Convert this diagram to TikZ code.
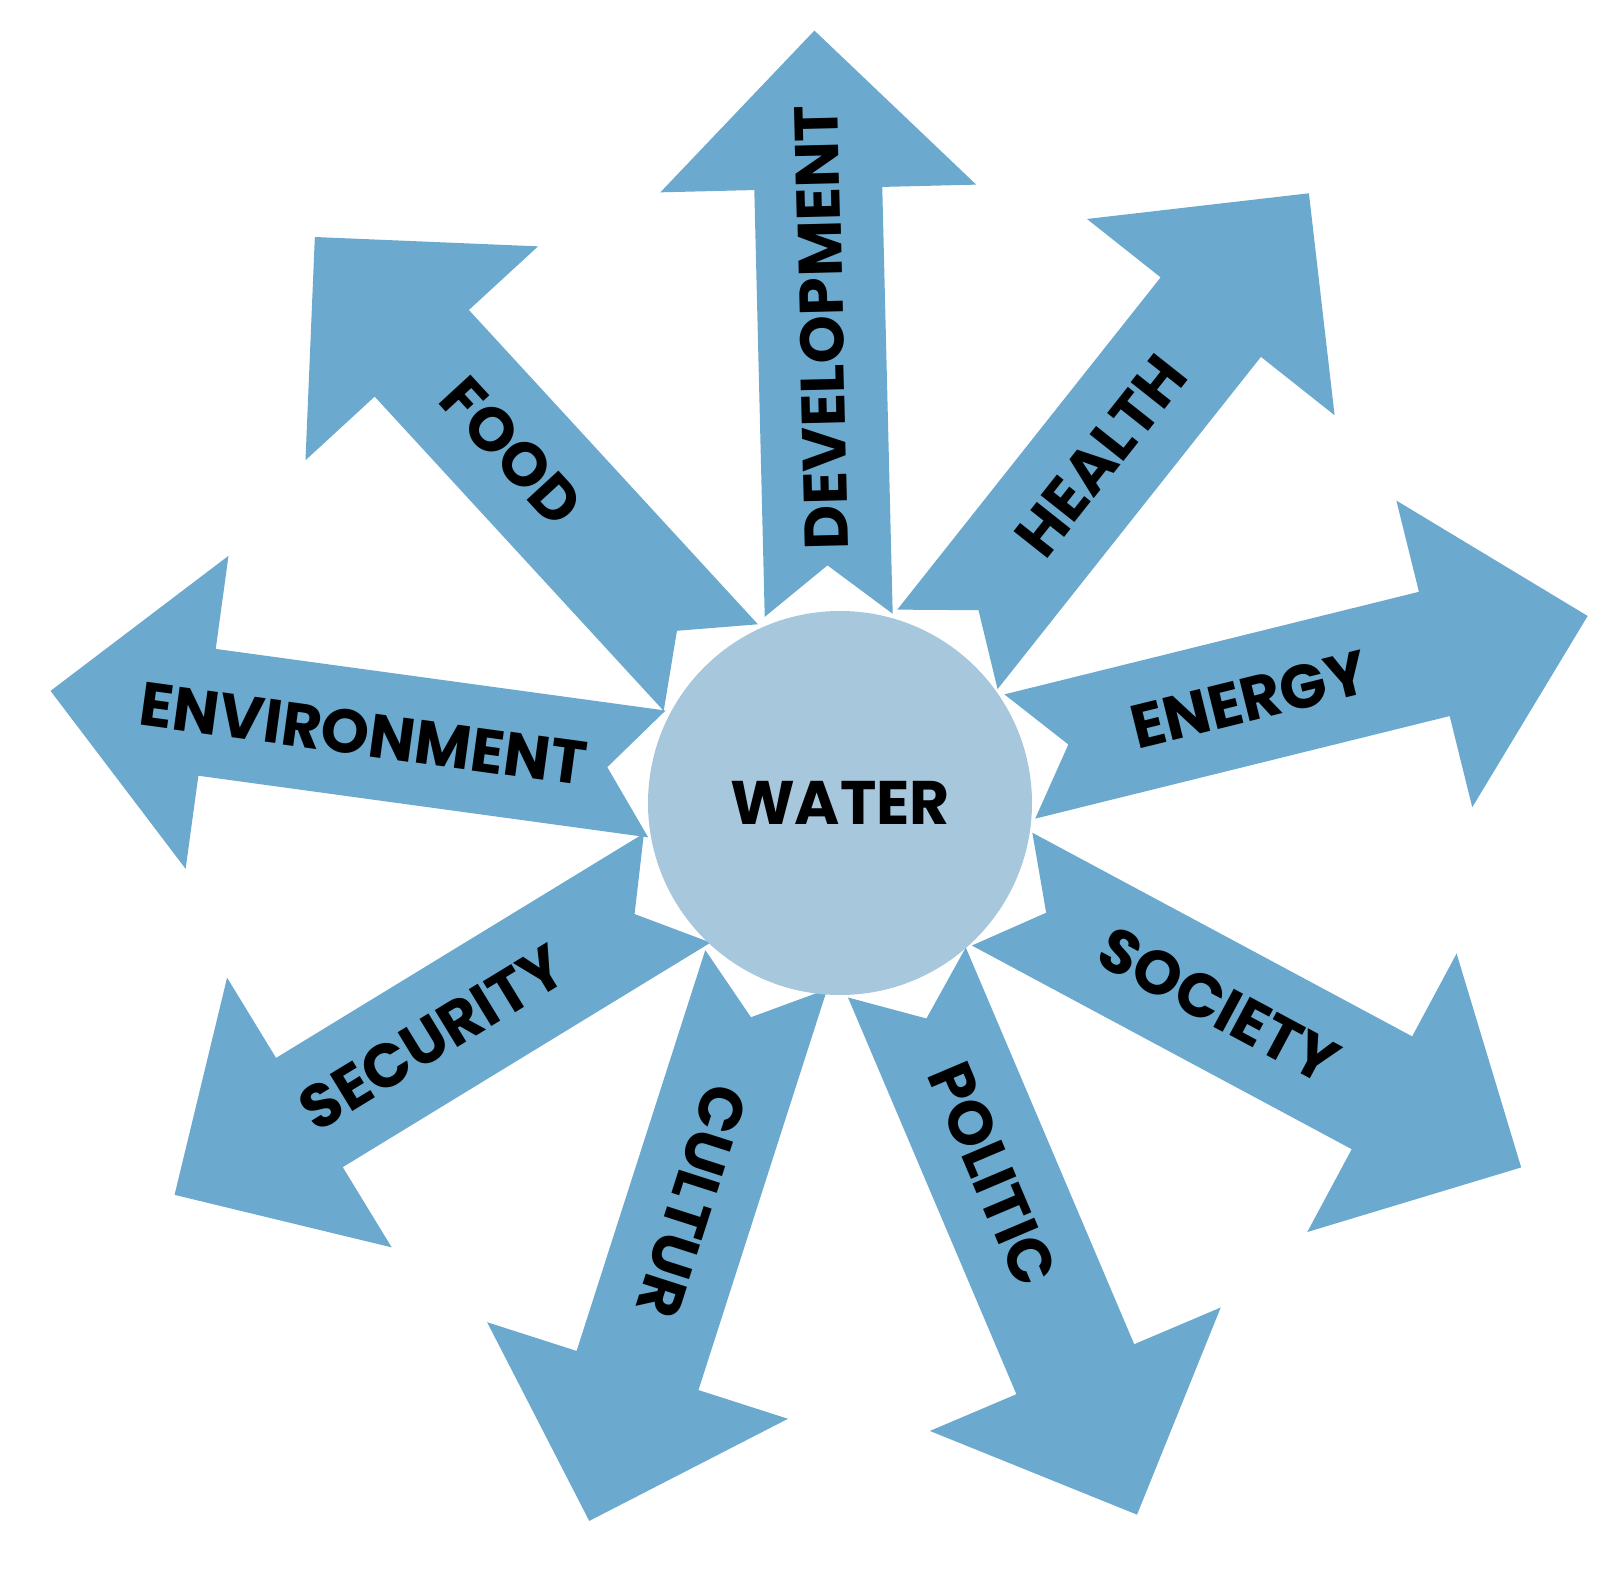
\documentclass[tikz,border=0pt]{standalone}
\usepackage{fontspec}
\setmainfont{Poppins}
\definecolor{raycol}{RGB}{107,170,206}
\definecolor{watercol}{RGB}{167,199,221}

\begin{document}
\begin{tikzpicture}[ray/.style = {fill=raycol},
    raytext/.style = {font=\bfseries\fontsize{17.5}{20}\selectfont, inner sep=0pt}]
  \useasboundingbox (-8.40,-7.68) rectangle (7.83,8.00);
  % tail angle / direction / length / label distance / label rotation / name / text
  \foreach \tang/\dang/\rlen/\lpos/\lrot/\lname/\ltext in {
      93.5/91.4/5.85/2.88/91.4/dev/DEVELOPMENT,
      54.5/51.6/5.82/2.47/51.6/health/HEALTH,
      13.6/13.9/5.85/2.36/13.9/energy/ENERGY,
      -28.8/-28.2/5.89/2.46/-28.2/society/SOCIETY,
      -68.8/-67.0/5.89/2.19/-67.0/politic/POLITIC,
      -113.5/-107.8/5.79/2.43/-107.8/cultur/CULTUR,
      208.4/211.4/5.89/2.87/31.4/security/SECURITY,
      171.9/172.2/6.12/2.96/-7.8/environment/ENVIRONMENT,
      134.3/132.6/5.85/2.94/-47.4/food/FOOD} {
    \begin{scope}[shift={(\tang:1.85)}, rotate=\dang]
      \fill[ray] (0,0.64) -- ({\rlen-1.58},0.64) -- ({\rlen-1.58},1.58) -- (\rlen,0)
        -- ({\rlen-1.58},-1.58) -- ({\rlen-1.58},-0.64) -- (0,-0.64) -- (0.5,0) -- cycle;
      \node[raytext, rotate=\lrot] (\lname) at (\lpos,0) {\ltext};
    \end{scope}
  }
  \node[circle, fill=watercol, minimum size=3.84cm, raytext] (water) at (0,-0.03) {WATER};
\end{tikzpicture}
\end{document}
